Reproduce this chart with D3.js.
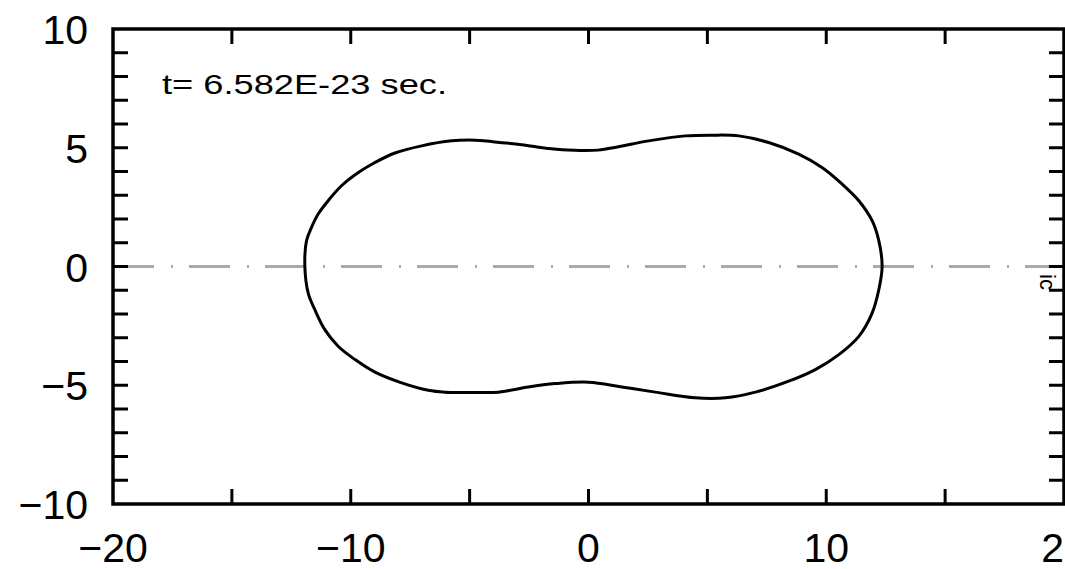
<!DOCTYPE html>
<html>
<head>
<meta charset="utf-8">
<script src="https://cdn.jsdelivr.net/npm/d3@7"></script>
<style>
  html, body { margin: 0; padding: 0; background: #fff; }
  svg { display: block; overflow: visible; }
  text { font-family: "Liberation Sans", Arial, Helvetica, sans-serif; fill: #000; }
</style>
</head>
<body>
<svg id="chart" width="1065" height="569"></svg>
<script>
// Nuclear surface contour (fm) at the given time step
const timeLabel = "t= 6.582E-23 sec.";
const contourX = [
  -11.93, -11.86, -11.65, -11.37, -10.95, -10.39, -9.68, -8.98, -8.14, -7.02,
  -5.76, -4.77, -4.07, -2.81, -1.68, -0.60, 0.40, 1.26, 2.53, 4.07, 5.20, 6.32,
  7.58, 8.84, 9.82, 10.67, 11.37, 11.93, 12.21, 12.35,
  12.21, 11.93, 11.37, 10.53, 9.54, 8.42, 7.02, 5.76, 4.49, 2.81, 1.40, 0.00,
  -1.40, -2.53, -3.79, -4.90, -6.03, -6.74, -7.86, -8.98, -9.82, -10.53,
  -11.09, -11.51, -11.79
];
const contourY = [
  0.00, 1.09, 1.65, 2.21, 2.77, 3.40, 3.96, 4.38, 4.78, 5.08,
  5.29, 5.32, 5.26, 5.13, 4.97, 4.89, 4.90, 5.04, 5.29, 5.50, 5.53, 5.50,
  5.22, 4.73, 4.17, 3.47, 2.77, 1.93, 1.09, 0.00,
  -0.98, -1.96, -2.94, -3.71, -4.34, -4.83, -5.29, -5.53, -5.53, -5.29, -5.07, -4.87,
  -4.93, -5.07, -5.29, -5.30, -5.29, -5.21, -4.90, -4.45, -3.92, -3.36,
  -2.66, -1.82, -1.12
];
const xDomain = [-20, 20];
const yDomain = [-10, 10];
const xTickLabels = [-20, -10, 0, 10, 20];
const yTickLabels = [-10, -5, 0, 5, 10];

const svg = d3.select("#chart");
const x = d3.scaleLinear().domain(xDomain).range([113, 1064]);
const y = d3.scaleLinear().domain(yDomain).range([504, 29]);

const fmt = d => (d < 0 ? "\u2212" + Math.abs(d) : String(d));

// Symmetry axis, dash-dot
svg.append("line")
  .attr("x1", x(xDomain[0])).attr("x2", x(xDomain[1]))
  .attr("y1", y(0)).attr("y2", y(0))
  .attr("stroke", "#a9a9a9").attr("stroke-width", 3)
  .attr("stroke-dasharray", "41 17 2 16");

// Contour
const pts = contourX.map((v, i) => [x(v), y(contourY[i])]);
svg.append("path")
  .attr("d", d3.line().curve(d3.curveCatmullRomClosed.alpha(0.5))(pts))
  .attr("fill", "none").attr("stroke", "#000").attr("stroke-width", 3)
  .attr("stroke-linejoin", "round");

// Inward ticks on all four sides
const tickLen = 15;
const g = svg.append("g").attr("stroke", "#000").attr("stroke-width", 3);
const xTicks = d3.range(xDomain[0] + 5, xDomain[1], 5);
const yTicks = d3.range(yDomain[0] + 1, yDomain[1], 1);
xTicks.forEach(t => {
  g.append("line").attr("x1", x(t)).attr("x2", x(t)).attr("y1", y(-10)).attr("y2", y(-10) - tickLen);
  g.append("line").attr("x1", x(t)).attr("x2", x(t)).attr("y1", y(10)).attr("y2", y(10) + tickLen);
});
yTicks.forEach(t => {
  g.append("line").attr("x1", x(-20)).attr("x2", x(-20) + tickLen).attr("y1", y(t)).attr("y2", y(t));
  g.append("line").attr("x1", x(20)).attr("x2", x(20) - tickLen).attr("y1", y(t)).attr("y2", y(t));
});

// Frame
svg.append("rect")
  .attr("x", x(-20)).attr("y", y(10))
  .attr("width", x(20) - x(-20)).attr("height", y(-10) - y(10))
  .attr("fill", "none").attr("stroke", "#000").attr("stroke-width", 3.5);

// Tick labels
svg.append("g").selectAll("text").data(xTickLabels).join("text")
  .attr("x", d => x(d)).attr("y", 562)
  .attr("text-anchor", "middle").attr("font-size", 41)
  .text(fmt);
svg.append("g").selectAll("text").data(yTickLabels).join("text")
  .attr("x", 88).attr("y", d => y(d) + 15)
  .attr("text-anchor", "end").attr("font-size", 41)
  .text(fmt);

// Time annotation
svg.append("text")
  .attr("x", 162).attr("y", 94)
  .attr("font-size", 28)
  .attr("textLength", 285)
  .attr("lengthAdjust", "spacingAndGlyphs")
  .text(timeLabel);

// Right-side label
svg.append("text")
  .attr("transform", `translate(1040,282) rotate(90)`)
  .attr("text-anchor", "middle").attr("font-size", 22)
  .text("ic");
</script>
</body>
</html>
